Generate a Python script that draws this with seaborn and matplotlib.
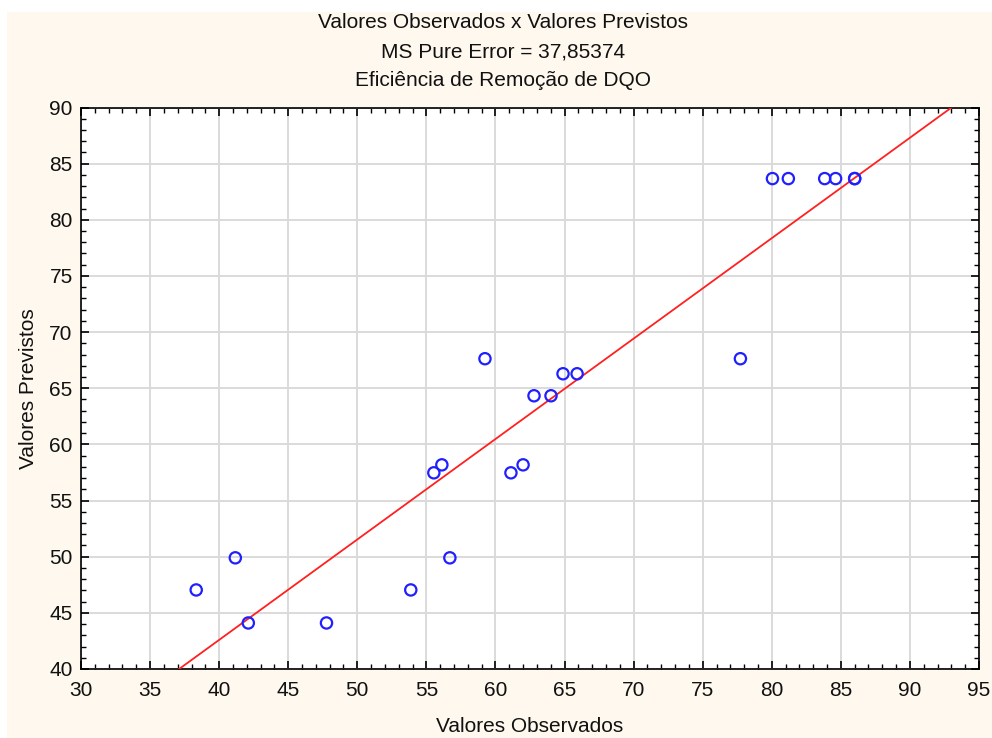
import numpy as np
import pandas as pd
import matplotlib
matplotlib.use("Agg")
import matplotlib.pyplot as plt
import seaborn as sns
from matplotlib.patches import Rectangle
from matplotlib.ticker import MultipleLocator

observed = [38.34, 41.17, 42.11, 47.77, 53.87, 55.54, 56.12, 56.70, 59.24, 61.12, 62.00,
            62.79, 64.02, 64.89, 65.91, 77.73, 80.05, 81.20, 83.83, 84.62, 86.00, 86.00]
predicted = [47.04, 49.90, 44.10, 44.10, 47.04, 57.47, 58.18, 49.90, 67.63, 57.47, 58.18,
             64.33, 64.33, 66.29, 66.29, 67.63, 83.67, 83.67, 83.67, 83.67, 83.67, 83.67]
x_ticks = list(range(30, 96, 5))
y_ticks = list(range(40, 91, 5))
title_lines = ["Valores Observados x Valores Previstos",
               "MS Pure Error = 37,85374",
               "Eficiência de Remoção de DQO"]
x_label = "Valores Observados"
y_label = "Valores Previstos"

df = pd.DataFrame({"obs": observed, "pred": predicted})

sns.set_theme(style="white")
fam = ["Liberation Sans", "DejaVu Sans"]
plt.rcParams["font.family"] = fam

cream = "#FEF8EE"
fig = plt.figure(figsize=(9.92, 7.38), dpi=100, facecolor=cream)
# white page margins
fig.patches.append(Rectangle((0, 1 - 12 / 738), 1, 12 / 738, transform=fig.transFigure,
                             facecolor="white", edgecolor="none", zorder=-1))
fig.patches.append(Rectangle((0, 0), 7 / 992, 1, transform=fig.transFigure,
                             facecolor="white", edgecolor="none", zorder=-1))

ax = fig.add_axes([81 / 992, 1 - 669 / 738, (979 - 81) / 992, (669 - 107.5) / 738])
ax.set_facecolor("white")
ax.set_xlim(x_ticks[0], x_ticks[-1])
ax.set_ylim(y_ticks[0], y_ticks[-1])

ax.grid(True, color="#DADADA", linewidth=1.4, zorder=0)
ax.set_axisbelow(True)

sns.regplot(data=df, x="obs", y="pred", ax=ax, scatter=False, ci=None, truncate=False,
            line_kws={"color": "#FF2020", "linewidth": 1.3, "zorder": 3})
sns.scatterplot(data=df, x="obs", y="pred", ax=ax, marker="o", s=66,
                facecolors="none", edgecolor="#2020FF", linewidth=1.6, zorder=4)

ax.set_xticks(x_ticks)
ax.set_yticks(y_ticks)
ax.xaxis.set_minor_locator(MultipleLocator(1))
ax.yaxis.set_minor_locator(MultipleLocator(1))
ax.tick_params(which="both", direction="in", top=True, right=True, bottom=True, left=True,
               color="black")
ax.tick_params(which="major", length=6, width=1.2, labelsize=15,
               labelcolor="#111111")
ax.tick_params(axis="x", which="major", pad=9)
ax.tick_params(axis="y", which="major", pad=6)
ax.tick_params(which="minor", length=3.5, width=1.0)
for sp in ax.spines.values():
    sp.set_color("black")
    sp.set_linewidth(1.2)
    sp.set_visible(True)

ax.set_xlabel(x_label, fontsize=15, labelpad=12, color="#111111")
ax.set_ylabel(y_label, fontsize=15, labelpad=8, color="#111111")

for i, t in enumerate(title_lines):
    fig.text(503 / 992, 1 - (23 + 29 * i) / 738, t, ha="center", va="center",
             fontsize=15, color="#111111", family=fam)

fig.savefig("out.png", dpi=100, facecolor=cream)
